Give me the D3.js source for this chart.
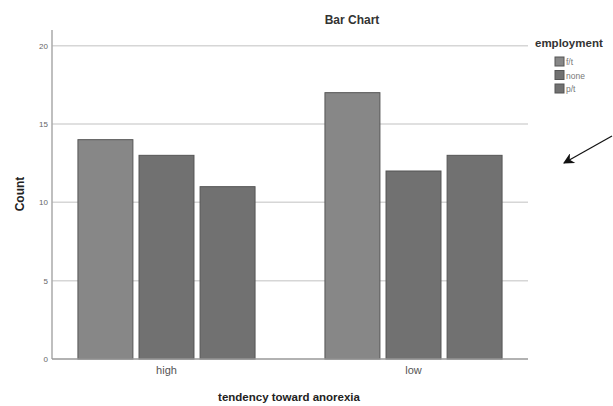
<!DOCTYPE html>
<html>
<head>
<meta charset="utf-8">
<script src="https://cdn.jsdelivr.net/npm/d3@7"></script>
<style>
  html, body { margin: 0; padding: 0; background: #fff; }
  svg { display: block; font-family: "Liberation Sans", Arial, sans-serif; }
</style>
</head>
<body>
<svg id="chart" width="613" height="406"></svg>
<script>
// Counts by tendency toward anorexia, split by employment status
const groups = ["high", "low"];
const employment = ["f/t", "none", "p/t"];
const ftCounts = [14, 17];
const noneCounts = [13, 12];
const ptCounts = [11, 13];
const yTicks = [0, 5, 10, 15, 20];

const seriesValues = [ftCounts, noneCounts, ptCounts];
const fills = ["#878787", "#717171", "#717171"];

const svg = d3.select("#chart");
const plotLeft = 52, plotRight = 528, plotTop = 30, plotBottom = 359;

const x0 = d3.scaleBand().domain(groups).range([plotLeft, plotRight])
  .paddingInner(0.283).paddingOuter(0.105);
const x1 = d3.scaleBand().domain(employment).range([0, x0.bandwidth()])
  .paddingInner(0.1);
const y = d3.scaleLinear().domain([0, 21]).range([plotBottom, plotTop]);

// grid lines
svg.append("g").selectAll("line").data(yTicks.filter(d => d > 0)).join("line")
  .attr("x1", plotLeft).attr("x2", plotRight)
  .attr("y1", d => y(d)).attr("y2", d => y(d))
  .attr("stroke", "#d6d6d6").attr("stroke-width", 1.5);

// bars
const rows = [];
groups.forEach((g, gi) => employment.forEach((e, ei) =>
  rows.push({ g, e, ei, v: seriesValues[ei][gi] })));

svg.append("g").selectAll("rect").data(rows).join("rect")
  .attr("x", d => x0(d.g) + x1(d.e))
  .attr("y", d => y(d.v))
  .attr("width", x1.bandwidth())
  .attr("height", d => y(0) - y(d.v))
  .attr("fill", d => fills[d.ei])
  .attr("stroke", "#555").attr("stroke-width", 1);

// y axis
const yAxis = d3.axisLeft(y).tickValues(yTicks).tickSize(0).tickPadding(4);
const gy = svg.append("g").attr("transform", `translate(${plotLeft},0)`).call(yAxis);
gy.select(".domain").remove();
gy.selectAll("text").attr("font-size", 8).attr("fill", "#666");
svg.append("line").attr("x1", plotLeft).attr("x2", plotLeft)
  .attr("y1", plotTop).attr("y2", plotBottom)
  .attr("stroke", "#aaa").attr("stroke-width", 1.5);

// x axis
const xAxis = d3.axisBottom(x0).tickSize(0).tickPadding(7);
const gx = svg.append("g").attr("transform", `translate(0,${plotBottom})`).call(xAxis);
gx.select(".domain").remove();
gx.selectAll("text").attr("font-size", 11).attr("fill", "#555");
svg.append("line").attr("x1", plotLeft).attr("x2", plotRight)
  .attr("y1", plotBottom).attr("y2", plotBottom)
  .attr("stroke", "#999").attr("stroke-width", 1.5);

// titles
svg.append("text").attr("x", 352).attr("y", 24).attr("text-anchor", "middle")
  .attr("font-size", 12).attr("font-weight", "bold").attr("fill", "#333").text("Bar Chart");
svg.append("text").attr("x", 289).attr("y", 401).attr("text-anchor", "middle")
  .attr("font-size", 11.5).attr("font-weight", "bold").attr("fill", "#222")
  .text("tendency toward anorexia");
svg.append("text").attr("transform", "translate(24,194) rotate(-90)")
  .attr("text-anchor", "middle").attr("font-size", 12).attr("font-weight", "bold")
  .attr("fill", "#222").text("Count");

// legend
svg.append("text").attr("x", 535).attr("y", 47).attr("font-size", 11.5)
  .attr("font-weight", "bold").attr("fill", "#333").text("employment");
const lg = svg.append("g").selectAll("g").data(employment).join("g")
  .attr("transform", (d, i) => `translate(555,${57 + i * 13.5})`);
lg.append("rect").attr("width", 9).attr("height", 9)
  .attr("fill", (d, i) => fills[i]).attr("stroke", "#555").attr("stroke-width", 1);
lg.append("text").attr("x", 11).attr("y", 8).attr("font-size", 8.5).attr("fill", "#777")
  .text(d => d);

// arrow annotation
svg.append("defs").append("marker").attr("id", "head")
  .attr("viewBox", "0 0 10 10").attr("refX", 9).attr("refY", 5)
  .attr("markerWidth", 16).attr("markerHeight", 11).attr("orient", "auto")
  .attr("markerUnits", "userSpaceOnUse")
  .append("path").attr("d", "M0,0 L10,5 L0,10 L3,5 Z").attr("fill", "#111");
svg.append("line").attr("x1", 612).attr("y1", 136).attr("x2", 564).attr("y2", 163)
  .attr("stroke", "#111").attr("stroke-width", 1.2).attr("marker-end", "url(#head)");
</script>
</body>
</html>
